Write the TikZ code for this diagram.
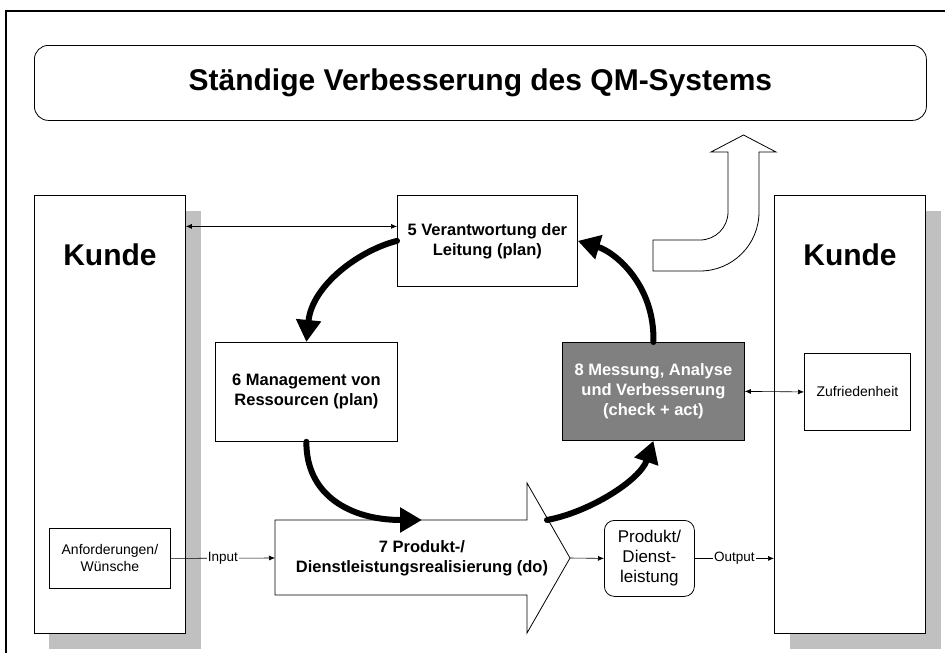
\documentclass[tikz,border=0pt]{standalone}
\usepackage{fontspec}
\setmainfont{Liberation Sans}
\usetikzlibrary{arrows.meta}
\definecolor{shadowgray}{HTML}{C0C0C0}
\definecolor{checkgray}{HTML}{808080}

\begin{document}
\begin{tikzpicture}[x=1pt, y=-1pt,
  box/.style={draw, line width=0.8pt, fill=white, inner sep=0pt, anchor=north west},
  boxtext/.style={align=center, font=\fontsize{16.5}{20}\selectfont\bfseries},
  small/.style={align=center, font=\fontsize{14}{17}\selectfont},
  bigtext/.style={font=\fontsize{30}{36}\selectfont\bfseries},
  looparrow/.style={line width=6pt, line cap=round, -{Triangle[length=22pt,width=24pt]}},
  thinarrow/.style={line width=0.6pt, -{Latex[length=6pt,width=5pt]}},
  twoway/.style={line width=0.6pt, {Latex[length=6pt,width=5pt]}-{Latex[length=6pt,width=5pt]}},
  flowlabel/.style={fill=white, inner sep=1pt, font=\fontsize{13.5}{16}\selectfont}]
\useasboundingbox (0,0) rectangle (945,653);

\draw[line width=1.6pt] (6,653) -- (6,11) -- (945,11);

\node[box, bigtext, minimum width=892pt, minimum height=75pt, rounded corners=14pt] (title) at (34,45) {Ständige Verbesserung des QM-Systems};

\draw[line width=0.8pt, fill=white] (653,240) -- (700,240)
.. controls (715.5,240) and (728,227.5) .. (728,212)
-- (728,152) -- (711,152) -- (743.5,135) -- (776,152) -- (759,152) -- (759,212)
.. controls (759,244.6) and (732.6,271) .. (700,271)
-- (653,271) -- cycle;

\fill[shadowgray] (49,211) rectangle (201,649);
\node[box, minimum width=151pt, minimum height=438pt] (kundeL) at (34,195) {};
\node[bigtext] (kundeLtxt) at (110,255) {Kunde};
\node[box, small, minimum width=121pt, minimum height=60pt] (anf) at (49,528) {Anforderungen/\\Wünsche};

\fill[shadowgray] (790,211) rectangle (941,649);
\node[box, minimum width=151pt, minimum height=438pt] (kundeR) at (774,195) {};
\node[bigtext] (kundeRtxt) at (850,255) {Kunde};
\node[box, small, minimum width=106pt, minimum height=77pt] (zuf) at (804,353) {Zufriedenheit};

\node[box, boxtext, minimum width=180pt, minimum height=91pt] (verant) at (397,195) {5 Verantwortung der\\Leitung (plan)};
\node[box, boxtext, minimum width=182pt, minimum height=99pt] (mgmt) at (215,342) {6 Management von\\Ressourcen (plan)};
\node[box, boxtext, fill=checkgray, text=white, minimum width=182pt, minimum height=98pt] (mess) at (562,342) {8 Messung, Analyse\\und Verbesserung\\(check + act)};

\draw[line width=0.8pt, fill=white] (275,520) -- (527,520) -- (527,483) -- (570,558) -- (527,633) -- (527,595) -- (275,595) -- cycle;
\node[boxtext] (real) at (422,558) {7 Produkt-/\\Dienstleistungsrealisierung (do)};
\coordinate (realin) at (275,558);
\coordinate (realtip) at (570,558);
\coordinate (realtop) at (422,520);
\coordinate (realout) at (547,520);

\node[box, align=center, font=\fontsize{17}{20}\selectfont, minimum width=90pt, minimum height=76pt, rounded corners=10pt] (prod) at (604,520) {Produkt/\\Dienst-\\leistung};

\draw[twoway] ([yshift=14.5pt]verant.west -| kundeL.east) -- ([yshift=14.5pt]verant.west);
\draw[twoway] (mess.east) -- (zuf.west);
\draw[thinarrow] (anf.east) -- node[flowlabel] {Input} (realin);
\draw[thinarrow] (realtip) -- (prod.west);
\draw[thinarrow] (prod.east) -- node[flowlabel] {Output} (prod.east -| kundeR.west);

\draw[looparrow] (verant.west) .. controls (360,250) and (312,285) .. (mgmt.north);
\draw[looparrow] (mgmt.south) .. controls (306,495) and (350,520) .. (realtop);
\draw[looparrow] (realout) .. controls (590,512) and (640,480) .. (mess.south);
\draw[looparrow] (mess.north) .. controls (655,285) and (615,252) .. (verant.east);
\end{tikzpicture}
\end{document}
